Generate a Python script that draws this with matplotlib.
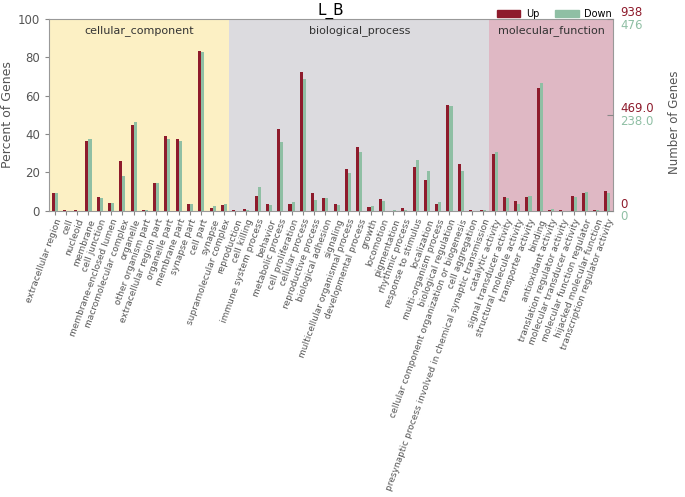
import numpy as np
import matplotlib
matplotlib.use('Agg')
import matplotlib.pyplot as plt
from matplotlib.patches import Patch

# GO level-2 categories, grouped by ontology
cc_terms = ['extracellular region', 'cell', 'nucleoid', 'membrane', 'cell junction',
            'membrane-enclosed lumen', 'macromolecular complex', 'organelle',
            'other organism part', 'extracellular region part', 'organelle part',
            'membrane part', 'synapse part', 'cell part', 'synapse', 'supramolecular complex']
bp_terms = ['reproduction', 'cell killing', 'immune system process', 'behavior',
            'metabolic process', 'cell proliferation', 'cellular process',
            'reproductive process', 'biological adhesion', 'signaling',
            'multicellular organismal process', 'developmental process', 'growth',
            'locomotion', 'pigmentation', 'rhythmic process', 'response to stimulus',
            'localization', 'multi-organism process', 'biological regulation',
            'cellular component organization or biogenesis', 'cell aggregation',
            'presynaptic process involved in chemical synaptic transmission']
mf_terms = ['catalytic activity', 'signal transducer activity',
            'structural molecule activity', 'transporter activity', 'binding',
            'antioxidant activity', 'translation regulator activity',
            'molecular transducer activity', 'molecular function regulator',
            'hijacked molecular function', 'transcription regulator activity']

# percent of genes
cc_up = [9.0, 0.3, 0.3, 36.5, 7.3, 4.0, 26.1, 44.9, 0.3, 14.3, 38.8, 37.6, 3.3, 83.3, 1.6, 3.0]
cc_down = [9.0, 0.0, 0.0, 37.4, 6.4, 4.0, 18.3, 46.1, 0.6, 14.6, 37.4, 36.3, 3.3, 82.8, 2.4, 3.7]
bp_up = [0.4, 0.7, 7.7, 3.7, 42.8, 3.7, 72.2, 9.0, 6.4, 3.7, 21.6, 33.0, 2.1, 5.9,
         0.0, 1.4, 22.8, 15.8, 3.7, 55.0, 24.3, 0.3, 0.3]
bp_down = [0.0, 0.3, 12.5, 2.8, 35.8, 4.5, 68.5, 5.4, 6.8, 3.1, 19.5, 30.8, 2.3, 5.0,
           0.2, 0.5, 26.3, 20.5, 4.7, 54.4, 20.7, 0.0, 0.6]
mf_up = [29.7, 7.3, 4.9, 7.3, 64.0, 0.3, 0.3, 7.7, 9.0, 0.3, 10.4]
mf_down = [30.4, 6.6, 3.5, 7.7, 66.8, 0.7, 0.0, 7.3, 9.7, 0.5, 9.4]

up_total = 938
down_total = 476

groups = ['cellular_component', 'biological_process', 'molecular_function']
group_colors = ['#fcf0c4', '#dcdbdf', '#dfb8c4']
up_color = '#8e1b2c'
down_color = '#8fbfa4'
text_color = '#555555'

terms = cc_terms + bp_terms + mf_terms
up = np.array(cc_up + bp_up + mf_up)
down = np.array(cc_down + bp_down + mf_down)
sizes = [len(cc_terms), len(bp_terms), len(mf_terms)]

fig = plt.figure(figsize=(6.85, 4.97), dpi=100)
ax = fig.add_axes([0.0715, 0.576, 0.8235, 0.386])

x = np.arange(len(terms))
w = 0.27
ax.bar(x - w / 2, up, w, color=up_color, label='Up', zorder=3)
ax.bar(x + w / 2, down, w, color=down_color, label='Down', zorder=3)

start = -0.5
for name, n, c in zip(groups, sizes, group_colors):
    ax.axvspan(start, start + n, color=c, zorder=0, lw=0)
    ax.text(start + n / 2, 97, name, ha='center', va='top', fontsize=8, color='#333333')
    start += n

ax.set_xlim(-0.5, len(terms) - 0.5)
ax.set_ylim(0, 100)
ax.set_xticks(x)
ax.set_xticklabels(terms, rotation=70, ha='right', rotation_mode='anchor',
                   fontsize=6.5, color=text_color)
ax.tick_params(axis='x', length=3, color='#888888', pad=2)
ax.tick_params(axis='y', labelsize=8.5, labelcolor=text_color, color='#888888', length=3)
ax.set_ylabel('Percent of Genes', fontsize=9, color=text_color, labelpad=3)
for s in ax.spines.values():
    s.set_color('#999999')
ax.set_title('L_B', fontsize=11, pad=3)

# right axis: number of genes
ax2 = ax.twinx()
ax2.set_ylim(0, up_total)
ax2.set_yticks([0, up_total / 2, up_total])
ax2.set_yticklabels([])
ax2.tick_params(axis='y', direction='in', length=4, color='#888888')
for s in ax2.spines.values():
    s.set_visible(False)
up_labels = ['0', '%.1f' % (up_total / 2), str(up_total)]
down_labels = ['0', '%.1f' % (down_total / 2), str(down_total)]
for frac, ul, dl in zip([0, 0.5, 1], up_labels, down_labels):
    ax2.annotate(ul, xy=(1, frac), xycoords='axes fraction', xytext=(5, 4.5),
                 textcoords='offset points', ha='left', va='center',
                 fontsize=8.5, color=up_color)
    ax2.annotate(dl, xy=(1, frac), xycoords='axes fraction', xytext=(5, -4.5),
                 textcoords='offset points', ha='left', va='center',
                 fontsize=8.5, color=down_color)
fig.text(0.984, 0.755, 'Number of Genes', rotation=90, ha='center', va='center',
         fontsize=8.5, color=text_color)

handles = [Patch(color=up_color, label='Up'), Patch(color=down_color, label='Down')]
ax.legend(handles=handles, loc='lower right', bbox_to_anchor=(1.0, 0.995), ncol=2,
          frameon=False, fontsize=7, handlelength=2.4, handleheight=0.7,
          handletextpad=0.6, columnspacing=1.6, borderaxespad=0, borderpad=0.1)

plt.savefig('out.png', dpi=100)
